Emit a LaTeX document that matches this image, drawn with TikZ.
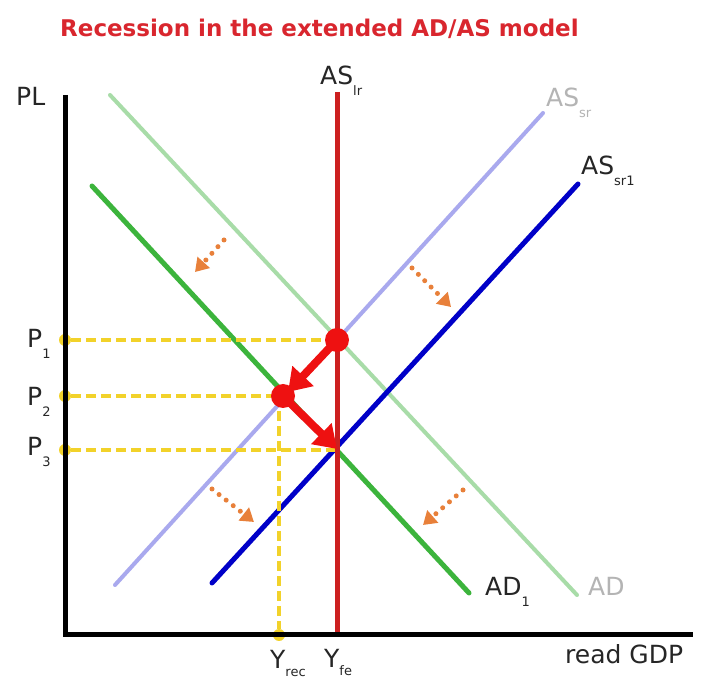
\documentclass[tikz,border=0pt]{standalone}
\usepackage{fontspec}
\setmainfont{DejaVu Sans}
\usetikzlibrary{arrows.meta}
\definecolor{titlered}{HTML}{D9262E}
\definecolor{lrred}{HTML}{CC2020}
\definecolor{srblue}{HTML}{A9A9EE}
\definecolor{sronblue}{HTML}{0000C8}
\definecolor{adgreen}{HTML}{A8DCA8}
\definecolor{adonegreen}{HTML}{3CB43C}
\definecolor{dashyellow}{HTML}{F2D22A}
\definecolor{dotred}{HTML}{EE1111}
\definecolor{shiftorange}{HTML}{E8803A}
\definecolor{labgray}{HTML}{B4B4B4}
\newcommand\mylbl[2]{#1\raisebox{-11pt}{\fontsize{13}{13}\selectfont #2}}
\newcommand\mylblb[2]{#1\raisebox{-8pt}{\fontsize{13}{13}\selectfont #2}}
\tikzset{
  lab/.style={anchor=base west, inner sep=0pt, font=\fontsize{25}{25}\selectfont, text=black!85},
  axisline/.style={line width=5pt, black},
  guide/.style={line width=4pt, dashyellow, dash pattern=on 10pt off 5pt},
  ydot/.style={circle, fill=dashyellow, minimum size=12pt, inner sep=0pt},
  rdot/.style={circle, fill=dotred, minimum size=24pt, inner sep=0pt},
  movearrow/.style={line width=8pt, dotred, -{Triangle[length=22pt,width=28pt]}},
  shiftarrow/.style={line width=5pt, shiftorange, line cap=round, dash pattern=on 0pt off 9pt, -{Triangle[length=13pt,width=16pt]}},
}
\begin{document}
\begin{tikzpicture}[x=1pt,y=-1pt]
\useasboundingbox (0,0) rectangle (705,684);
\fill[white] (0,0) rectangle (705,684);
% title
\node[anchor=base west, inner sep=0pt, font=\fontsize{23}{23}\selectfont\bfseries, text=titlered] (title) at (60,37) {Recession in the extended AD/AS model};
% coordinates
\coordinate (ytop) at (65,95);
\coordinate (ybot) at (65,637);
\coordinate (xl) at (63,635);
\coordinate (xr) at (693,635);
\coordinate (lrtop) at (337,92);
\coordinate (lrbot) at (337,632);
\coordinate (srA) at (115,585);
\coordinate (srB) at (543,113);
\coordinate (sr1A) at (212,583);
\coordinate (sr1B) at (578,184);
\coordinate (adA) at (110,95);
\coordinate (adB) at (577,595);
\coordinate (ad1A) at (92,186);
\coordinate (ad1B) at (469,593);
% curves
\draw[line width=4pt, adgreen, line cap=round] (adA) -- (adB);
\draw[line width=4pt, srblue, line cap=round] (srA) -- (srB);
\draw[line width=5pt, adonegreen, line cap=round] (ad1A) -- (ad1B);
\draw[line width=5pt, sronblue, line cap=round] (sr1A) -- (sr1B);
% guides
\node[ydot] (p1) at (65,340) {};
\node[ydot] (p2) at (65,396) {};
\node[ydot] (p3) at (65,450) {};
\node[ydot] (yrec) at (279,635) {};
\coordinate (e1) at (337,340);
\coordinate (e2) at (283,396);
\coordinate (e3) at (337,450);
\coordinate (e2v) at (279,396);
\draw[guide] (p1) -- (e1);
\draw[guide] (p2) -- (e2);
\draw[guide] (p3) -- (e3);
\draw[guide] (e2v) -- (yrec);
% long-run AS
\draw[line width=5pt, lrred] (lrtop) -- (lrbot);
% axes
\draw[axisline] (ytop) -- (ybot);
\draw[axisline] (xl) -- (xr);
% equilibrium dots and moves
\node[rdot] (d1) at (e1) {};
\node[rdot] (d2) at (e2) {};
\coordinate (t1) at (288,392);
\coordinate (t2) at (337,449);
\draw[movearrow] (d1.center) -- (t1);
\draw[movearrow] (d2.center) -- (t2);
% shift arrows
\coordinate (s1a) at (224,240); \coordinate (s1b) at (195,272);
\coordinate (s2a) at (412,268); \coordinate (s2b) at (451,307);
\coordinate (s3a) at (212,489); \coordinate (s3b) at (254,522);
\coordinate (s4a) at (463,490); \coordinate (s4b) at (423,525);
\draw[shiftarrow] (s1a) -- (s1b);
\draw[shiftarrow] (s2a) -- (s2b);
\draw[shiftarrow] (s3a) -- (s3b);
\draw[shiftarrow] (s4a) -- (s4b);
% labels
\node[lab] (pl) at (16,106) {PL};
\node[lab] (aslr) at (320,85) {\mylbl{AS}{lr}};
\node[lab, text=labgray] (assr) at (546,107) {\mylbl{AS}{sr}};
\node[lab] (assr1) at (581,175) {\mylbl{AS}{sr1}};
\node[lab] (lp1) at (27,348) {\mylbl{P}{1}};
\node[lab] (lp2) at (27,406) {\mylbl{P}{2}};
\node[lab] (lp3) at (27,456) {\mylbl{P}{3}};
\node[lab, text=labgray] (adl) at (588,596) {AD};
\node[lab] (ad1l) at (485,596) {\mylbl{AD}{1}};
\node[lab] (gdp) at (565,663) {read GDP};
\node[lab] (yfe) at (324,668) {\mylblb{Y}{fe}};
\node[lab] (yrecl) at (270,669) {\mylblb{Y}{rec}};
\end{tikzpicture}
\end{document}
